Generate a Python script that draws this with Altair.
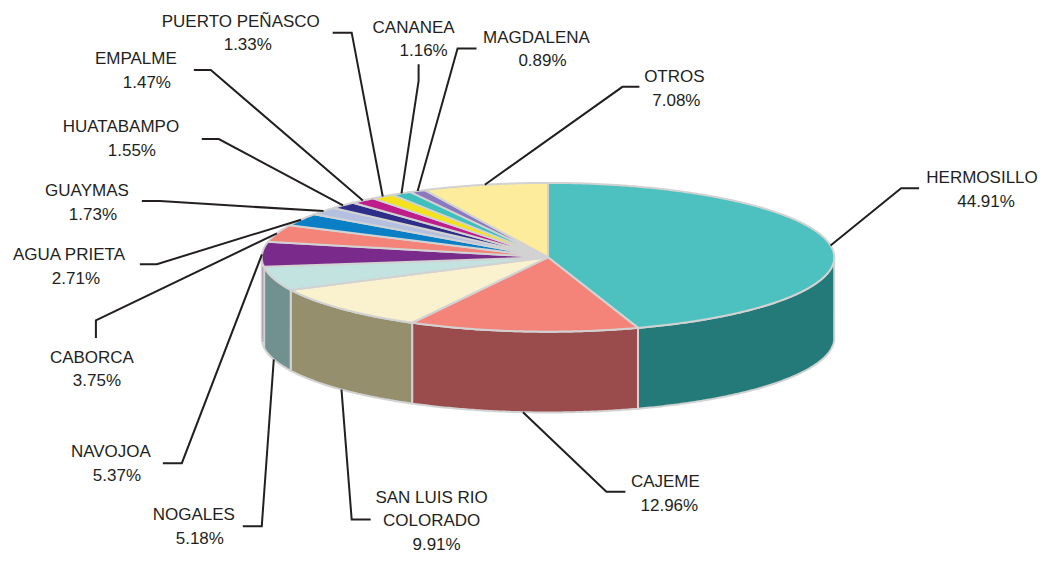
import math
import pandas as pd
import altair as alt

# ---------------- data ----------------
names = ["HERMOSILLO", "CAJEME", "SAN LUIS RIO\nCOLORADO", "NOGALES", "NAVOJOA", "CABORCA",
         "AGUA PRIETA", "GUAYMAS", "HUATABAMPO", "EMPALME", "PUERTO PEÑASCO", "CANANEA",
         "MAGDALENA", "OTROS"]
shares = [44.91, 12.96, 9.91, 5.18, 5.37, 3.75, 2.71, 1.73, 1.55, 1.47, 1.33, 1.16, 0.89, 7.08]
top_colors = ["#4CC1C0", "#F4837A", "#FAF1CE", "#C3E3E1", "#7A2A8A", "#F4837A", "#0A7FC6",
              "#B4C0E0", "#2E2E88", "#BE1E8C", "#F4E21E", "#3FC0BE", "#8C78BE", "#FCEC9C"]
side_colors = ["#237A78", "#9A4B4B", "#968F6E", "#719191", "#4A1A55", "#9A4B4B", "#064F7C",
               "#707890", "#1C1C55", "#761257", "#968A12", "#267876", "#574A77", "#9C9260"]

# ---------------- layout (reference pixel space) ----------------
CX, CY, RX, RY, DEPTH = 548.5, 261.0, 286.5, 75.5, 82.0
label_x = [983, 666, 432, 194, 111, 92, 69, 87, 121, 136, 241, 414, 537, 675]
pct_x = [987, 670, 437, 200, 117, 97, 76, 93, 132, 147, 248, 424, 543, 677]
label_y = [180, 488, 504, 522, 458, 362, 258, 193, 128, 59, 21, 27, 37, 77]
elbow_x = [902, 607, 352, 262, 182, 96, 157, 160, 219, 211, 352, 419, 458, 623]
elbow_y = [191, 499, 527, 534, 470, 325, 268, 204, 141, 71, 33, 82, 49, 88]
end_x = [920, 626, 371, 243, 163, 96, 140, 142, 202, 194, 333, 419, 477, 640]
end_y = [191, 499, 527, 534, 470, 343, 268, 204, 141, 71, 33, 65, 49, 88]
LINE_H = 24


def ell(a, dy=0.0):
    r = math.radians(a)
    return CX + RX * math.cos(r), CY + RY * math.sin(r) + dy


def arc(a1, a2, dy=0.0):
    n = max(2, int(abs(a2 - a1) / 0.5) + 1)
    return [ell(a1 + (a2 - a1) * i / (n - 1), dy) for i in range(n)]


total = sum(shares)
top_rows, side_rows, lead_rows, text_rows = [], [], [], []
start = -90.0
for k, (name, v) in enumerate(zip(names, shares)):
    a1 = start
    a2 = start + 360.0 * v / total
    start = a2
    # top face
    pts = [(CX, CY)] + arc(a1, a2) + [(CX, CY)]
    for i, (x, y) in enumerate(pts):
        top_rows.append({"id": k, "i": i, "x": x, "y": y, "c": top_colors[k]})
    # visible side wall (front half)
    lo, hi = max(a1, 0.0), min(a2, 180.0)
    if hi > lo:
        pts = arc(lo, hi) + arc(hi, lo, DEPTH)
        pts.append(pts[0])
        for i, (x, y) in enumerate(pts):
            side_rows.append({"id": k, "i": i, "x": x, "y": y, "c": side_colors[k]})
    # leader line
    mid = (a1 + a2) / 2.0
    ax, ay = ell(mid, DEPTH) if 0 < (mid % 360) < 180 else ell(mid)
    for i, (x, y) in enumerate([(ax, ay), (elbow_x[k], elbow_y[k]), (end_x[k], end_y[k])]):
        lead_rows.append({"id": k, "i": i, "x": x, "y": y})
    # labels
    lines = name.split("\n")
    for j, t in enumerate(lines):
        text_rows.append({"x": label_x[k], "y": label_y[k] + LINE_H * j, "t": t})
    text_rows.append({"x": pct_x[k], "y": label_y[k] + LINE_H * len(lines), "t": f"{v:.2f}%"})

xs = alt.Scale(domain=[8, 1038], nice=False, zero=False)
ys = alt.Scale(domain=[8, 553], nice=False, zero=False, reverse=True)
X = alt.X("x:Q", scale=xs, axis=None)
Y = alt.Y("y:Q", scale=ys, axis=None)

sides = alt.Chart(pd.DataFrame(side_rows)).mark_line(
    filled=True, stroke="#D2D2D2", strokeWidth=2, strokeJoin="round"
).encode(x=X, y=Y, detail="id:N", order="i:Q", color=alt.Color("c:N", scale=None))

tops = alt.Chart(pd.DataFrame(top_rows)).mark_line(
    filled=True, stroke="#D2D2D2", strokeWidth=2, strokeJoin="round"
).encode(x=X, y=Y, detail="id:N", order="i:Q", color=alt.Color("c:N", scale=None))

leads = alt.Chart(pd.DataFrame(lead_rows)).mark_line(
    color="#231F20", strokeWidth=2
).encode(x=X, y=Y, detail="id:N", order="i:Q")

texts = alt.Chart(pd.DataFrame(text_rows)).mark_text(
    font="Liberation Sans", fontSize=17, color="#231F20", align="center", baseline="middle", dy=1
).encode(x=X, y=Y, text="t:N")

chart = alt.layer(sides, tops, leads, texts).properties(
    width=1030, height=545, padding=0,
    autosize=alt.AutoSizeParams(type="fit", contains="padding"),
    background="white",
).configure_view(stroke=None)

chart.save("out.html", embed_options={"renderer": "svg", "actions": False})
